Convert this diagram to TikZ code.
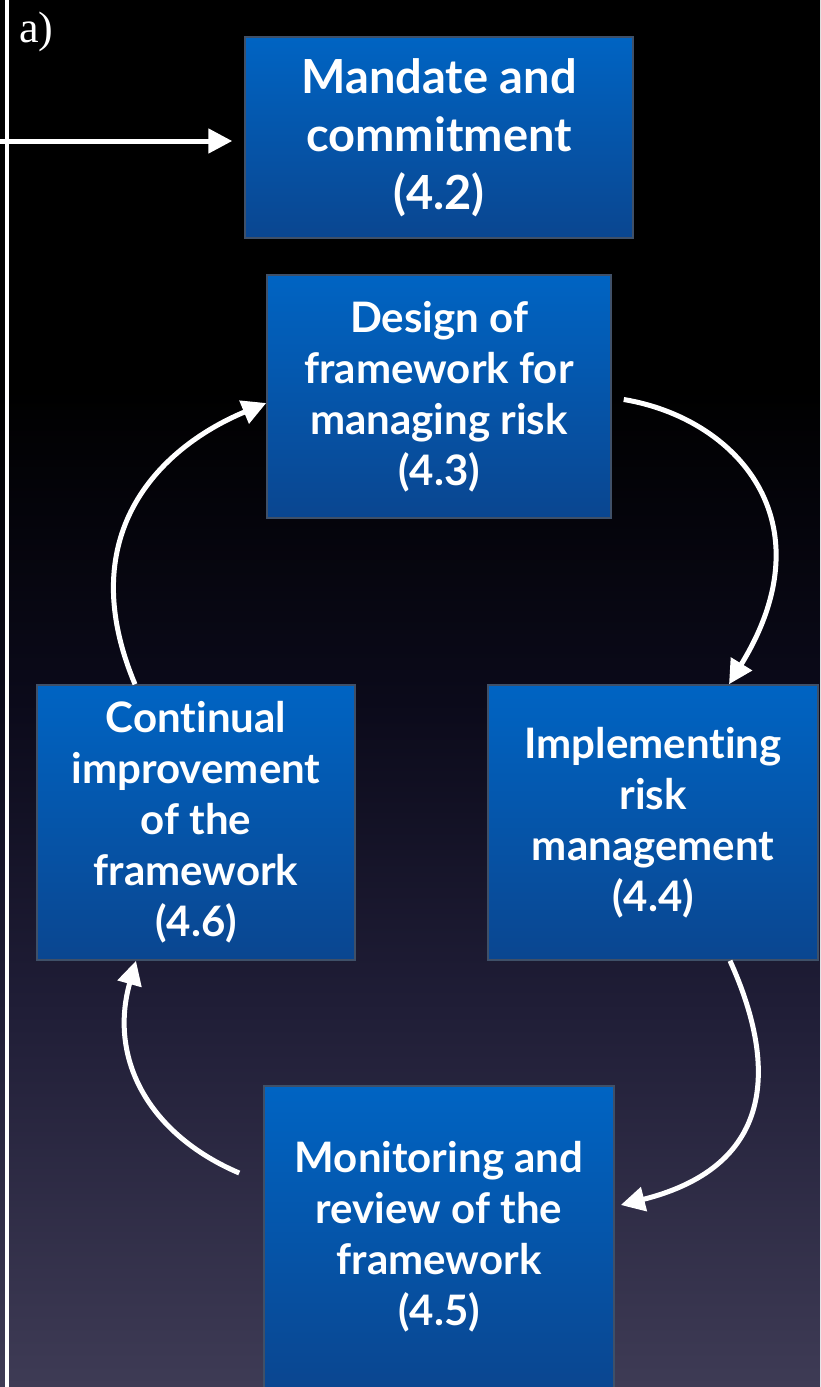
\documentclass[tikz,border=0pt]{standalone}
\usepackage{fontspec}
\newfontfamily\boxfont{Lato}[Ligatures=NoCommon]
\newfontfamily\tagfont{Liberation Serif}
\usetikzlibrary{arrows.meta}

% palette
\definecolor{bgbot}{HTML}{3E3B55}
\definecolor{bgmid}{HTML}{1F1D36}
\definecolor{bgdark}{HTML}{0B0A1A}
\definecolor{boxtop}{HTML}{0064C3}
\definecolor{boxbot}{HTML}{0A4690}
\definecolor{boxedge}{HTML}{3F5068}

% dark backdrop: black at the top, fading into a muted indigo at the bottom
\pgfdeclareverticalshading{backdrop}{100bp}{%
  color(0bp)=(bgbot); color(25bp)=(bgbot); color(38.95bp)=(bgmid);
  color(49.77bp)=(bgdark); color(61bp)=(black); color(100bp)=(black)}

\tikzset{
  stepbox/.style={draw=boxedge, line width=1.5pt, top color=boxtop,
    bottom color=boxbot, text=white, align=center, inner sep=0pt,
    font=\boxfont\bfseries\fontsize{42}{51}\selectfont},
  flow/.style={draw=white, line width=5pt,
    -{Triangle[length=24pt,width=24pt]}},
  rail/.style={draw=white, line width=4.5pt},
}

\begin{document}
\begin{tikzpicture}[x=1pt,y=-1pt]
\useasboundingbox (0,0) rectangle (820,1387);
\shade[shading=backdrop] (0,0) rectangle (820,1387);

% boxes
\node[stepbox, minimum width=388pt, minimum height=201pt,
      font=\boxfont\bfseries\fontsize{47}{58}\selectfont]
  (mandate) at (439,137.5) {Mandate and\\commitment\\(4.2)};
\node[stepbox, minimum width=344pt, minimum height=243pt]
  (design) at (439,396.5) {Design of\\framework for\\managing risk\\(4.3)};
\node[stepbox, minimum width=330pt, minimum height=275pt]
  (impl) at (653,822.5) {Implementing\\risk\\management\\(4.4)};
\node[stepbox, minimum width=318pt, minimum height=275pt]
  (improve) at (196,822.5) {Continual\\improvement\\of the\\framework\\(4.6)};
\node[stepbox, minimum width=350pt, minimum height=302pt]
  (monitor) at (439,1237) {Monitoring and\\review of the\\framework\\(4.5)};

% left rail and the entry arrow
\coordinate (railtop) at (7,0);
\coordinate (railbot) at (7,1387);
\draw[rail] (railtop) -- (railbot);
\coordinate (feed) at (0,141);
\draw[flow, shorten >=12pt] (feed) -- (mandate.west |- feed);

\node[text=white, font=\tagfont\fontsize{44}{50}\selectfont, anchor=base west,
      inner sep=0pt] (tag) at (19,42) {a)};

% the improvement cycle
\draw[flow] ([shift={(12,3)}]design.east)
  .. controls (735,418) and (830,520) .. ([xshift=76]impl.north);
\draw[flow] ([xshift=77]impl.south)
  .. controls (775,1060) and (780,1165) .. ([shift={(6,-32)}]monitor.east);
\draw[flow] ([shift={(-24,-64)}]monitor.west)
  .. controls (150,1135) and (108,1060) .. ([xshift=-60]improve.south);
\draw[flow] ([xshift=-61]improve.north)
  .. controls (70,530) and (165,445) .. ([yshift=-6.5]design.west);
\end{tikzpicture}
\end{document}
